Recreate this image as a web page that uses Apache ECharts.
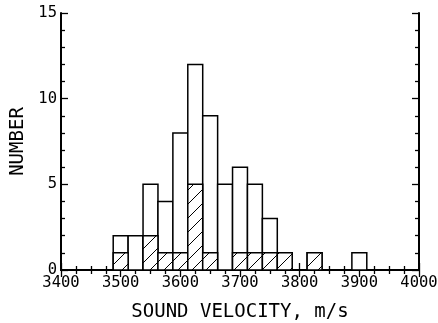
<!DOCTYPE html>
<html>
<head>
<meta charset="utf-8">
<script src="https://cdn.jsdelivr.net/npm/echarts@6/dist/echarts.min.js"></script>
<style>html,body{margin:0;padding:0;background:#fff}#c{width:438px;height:323px}</style>
</head>
<body>
<div id="c"></div>
<script>
var binWidth = 25;
var binCenters = [3500,3525,3550,3575,3600,3625,3650,3675,3700,3725,3750,3775,3800,3825,3850,3875,3900];
var totalCounts = [2,2,5,4,8,12,9,5,6,5,3,1,0,1,0,0,1];
var hatchedCounts = [1,0,2,1,1,5,1,0,1,1,1,1,0,1,0,0,0];
var xTicks = [3400,3500,3600,3700,3800,3900,4000];
var yTicks = [0,5,10,15];

var tile = document.createElement('canvas');
tile.width = 14; tile.height = 14;
var tc = tile.getContext('2d');
tc.fillStyle = '#fff'; tc.fillRect(0,0,14,14);
tc.strokeStyle = '#000'; tc.lineWidth = 1;
tc.beginPath();
tc.moveTo(-1,15); tc.lineTo(15,-1);
tc.moveTo(-2,2); tc.lineTo(2,-2);
tc.moveTo(12,16); tc.lineTo(16,12);
tc.stroke();
var hatchPattern = {image: tile, repeat: 'repeat'};

function makeData(counts){
  var d = [];
  for (var i = 0; i < binCenters.length; i++) if (counts[i] > 0) d.push([binCenters[i], counts[i]]);
  return d;
}
function barRenderer(fill){
  return function(params, api){
    var c = api.value(0), v = api.value(1);
    var p0 = api.coord([c - binWidth/2, 0]);
    var p1 = api.coord([c + binWidth/2, v]);
    return {type:'rect', shape:{x:p0[0], y:p1[1], width:p1[0]-p0[0], height:p0[1]-p1[1]},
            style:{fill:fill, stroke:'#000', lineWidth:1.5}};
  };
}
var font = 'DejaVu Sans Mono';
var plain = function(v){ return String(v); };
var axisCommon = {
  axisLine:{show:true, lineStyle:{color:'#000', width:2}},
  splitLine:{show:false}
};
var chart = echarts.init(document.getElementById('c'));
chart.setOption({
  animation:false,
  backgroundColor:'#fff',
  grid:{left:61, right:19, top:13, bottom:53, containLabel:false, outerBoundsMode:'none'},
  xAxis:[
    Object.assign({type:'value', position:'bottom', min:xTicks[0], max:xTicks[xTicks.length-1], interval:100,
      axisTick:{inside:true, length:7, lineStyle:{color:'#000', width:1.3}},
      minorTick:{show:true, splitNumber:4, length:4, lineStyle:{color:'#000', width:1.3}},
      axisLabel:{color:'#000', fontFamily:font, fontSize:15.5, margin:5, formatter:plain, hideOverlap:false},
      name:'SOUND VELOCITY, m/s', nameLocation:'middle', nameGap:33,
      nameTextStyle:{color:'#000', fontFamily:font, fontSize:19}}, axisCommon),
    Object.assign({type:'value', position:'top', min:xTicks[0], max:xTicks[xTicks.length-1], interval:100,
      axisTick:{inside:true, length:7, lineStyle:{color:'#000', width:1.3}},
      minorTick:{show:true, splitNumber:4, length:4, lineStyle:{color:'#000', width:1.3}},
      axisLabel:{show:false}}, axisCommon)
  ],
  yAxis:[
    Object.assign({type:'value', position:'left', min:yTicks[0], max:yTicks[yTicks.length-1], interval:5,
      axisTick:{inside:true, length:7, lineStyle:{color:'#000', width:1.3}},
      minorTick:{show:true, splitNumber:5, length:4, lineStyle:{color:'#000', width:1.3}},
      axisLabel:{color:'#000', fontFamily:font, fontSize:15.5, margin:4, formatter:plain, hideOverlap:false},
      name:'NUMBER', nameLocation:'middle', nameGap:32, nameRotate:90,
      nameTextStyle:{color:'#000', fontFamily:font, fontSize:19}}, axisCommon),
    Object.assign({type:'value', position:'right', min:yTicks[0], max:yTicks[yTicks.length-1], interval:5,
      axisTick:{inside:true, length:7, lineStyle:{color:'#000', width:1.3}},
      minorTick:{show:true, splitNumber:5, length:4, lineStyle:{color:'#000', width:1.3}},
      axisLabel:{show:false}}, axisCommon)
  ],
  series:[
    {type:'custom', name:'all', xAxisIndex:0, yAxisIndex:0, renderItem:barRenderer('#fff'),
     encode:{x:0, y:1}, data:makeData(totalCounts), z:2},
    {type:'custom', name:'hatched', xAxisIndex:0, yAxisIndex:0, renderItem:barRenderer(hatchPattern),
     encode:{x:0, y:1}, data:makeData(hatchedCounts), z:3}
  ]
});
</script>
</body>
</html>
